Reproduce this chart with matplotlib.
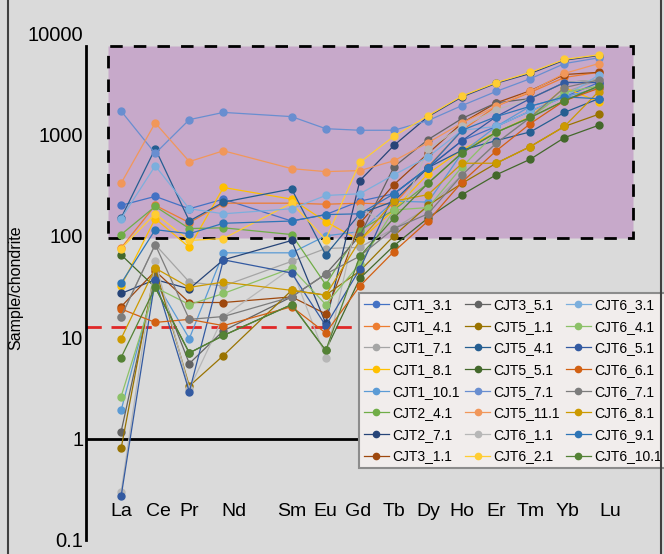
import numpy as np
import matplotlib.pyplot as plt
from matplotlib.patches import Rectangle
from matplotlib.lines import Line2D

plt.rcParams['font.family'] = ['Liberation Sans', 'DejaVu Sans']

# REE order incl. Pm (no data for Pm, it only leaves a gap on the x axis)
ree_all = ['La', 'Ce', 'Pr', 'Nd', 'Pm', 'Sm', 'Eu', 'Gd', 'Tb', 'Dy', 'Ho', 'Er', 'Tm', 'Yb', 'Lu']
elements = ['La', 'Ce', 'Pr', 'Nd', 'Sm', 'Eu', 'Gd', 'Tb', 'Dy', 'Ho', 'Er', 'Tm', 'Yb', 'Lu']

names = ['CJT1_3.1', 'CJT1_4.1', 'CJT1_7.1', 'CJT1_8.1', 'CJT1_10.1', 'CJT2_4.1', 'CJT2_7.1', 'CJT3_1.1',
         'CJT3_5.1', 'CJT5_1.1', 'CJT5_4.1', 'CJT5_5.1', 'CJT5_7.1', 'CJT5_11.1', 'CJT6_1.1', 'CJT6_2.1',
         'CJT6_3.1', 'CJT6_4.1', 'CJT6_5.1', 'CJT6_6.1', 'CJT6_7.1', 'CJT6_8.1', 'CJT6_9.1', 'CJT6_10.1']

colors = ['#4472C4', '#ED7D31', '#A5A5A5', '#FFC000', '#5B9BD5', '#70AD47', '#264478', '#9E480E',
          '#636363', '#997300', '#255E91', '#43682B', '#698ED0', '#F1975A', '#B7B7B7', '#FFCD33',
          '#7CAFDD', '#8CC168', '#335AA1', '#D26012', '#7C7C7C', '#CC9A00', '#2E75B6', '#548235']

# chondrite normalised values
cjt1_3 = [200, 245, 185, 230, 140, 162, 220, 260, 470, 870, 1200, 1700, 2350, 3250]
cjt1_4 = [76, 200, 135, 210, 210, 205, 210, 205, 480, 1100, 1900, 2600, 3650, 4100]
cjt1_7 = [16, 82, 35, 32, 56, 75, 77, 118, 190, 400, 820, 1470, 2600, 3450]
cjt1_8 = [32, 148, 77, 300, 230, 138, 90, 180, 410, 710, 1050, 1500, 2900, 2100]
cjt1_10 = [1.9, 36, 9.7, 68, 68, 100, 110, 220, 215, 660, 1200, 1900, 2350, 2850]
cjt2_4 = [103, 195, 118, 120, 103, 33, 113, 180, 330, 660, 1050, 1470, 2150, 3000]
cjt2_7 = [27, 37, 30, 58, 90, 13.7, 350, 780, 1500, 2350, 3200, 4000, 5400, 6000]
cjt3_1 = [20, 45, 22, 22, 25, 17, 133, 320, 650, 1300, 2050, 2700, 3900, 4100]
cjt3_5 = [1.17, 40, 5.5, 11.6, 25, 42, 100, 480, 890, 1440, 2050, 2260, 3250, 3450]
cjt5_1 = [0.8, 48, 3.3, 6.6, 29, 26, 45, 100, 200, 330, 520, 760, 1200, 1580]
cjt5_4 = [150, 725, 140, 215, 290, 65, 165, 220, 470, 700, 870, 1060, 1650, 2250]
cjt5_5 = [65, 31, 7, 10.4, 21, 7.4, 38, 80, 150, 255, 400, 570, 930, 1230]
cjt5_7 = [1700, 650, 1400, 1650, 1500, 1140, 1100, 1100, 1370, 1930, 2660, 3550, 5000, 5700]
cjt5_11 = [330, 1300, 540, 690, 460, 430, 440, 550, 830, 1300, 1900, 2660, 4000, 5000]
cjt6_1 = [0.3, 56, 3.1, 16, 48, 6.3, 190, 118, 720, 1200, 1750, 2260, 3250, 3450]
cjt6_2 = [75, 165, 90, 94, 210, 92, 530, 960, 1530, 2400, 3250, 4100, 5500, 6100]
cjt6_3 = [148, 490, 185, 165, 185, 250, 260, 400, 600, 1100, 1200, 1700, 2350, 3850]
cjt6_4 = [2.6, 31, 21, 27, 48, 21, 53, 180, 190, 480, 1050, 1470, 2600, 3000]
cjt6_5 = [0.27, 37, 2.9, 58, 43, 13, 47, 260, 470, 870, 1500, 2260, 3250, 3250]
cjt6_6 = [19, 14, 15, 13, 20, 11, 32, 70, 140, 340, 690, 1280, 2150, 2850]
cjt6_7 = [16, 82, 15, 16, 25, 42, 63, 118, 165, 400, 820, 1470, 2900, 3450]
cjt6_8 = [9.7, 48, 31, 35, 29, 26, 90, 220, 255, 520, 520, 760, 1200, 2650]
cjt6_9 = [34, 115, 105, 133, 140, 162, 165, 260, 470, 1100, 1500, 1900, 2350, 2250]
cjt6_10 = [6.3, 31, 7, 10.4, 21, 7.4, 63, 150, 330, 660, 1050, 1470, 2150, 3000]

series = [cjt1_3, cjt1_4, cjt1_7, cjt1_8, cjt1_10, cjt2_4, cjt2_7, cjt3_1,
          cjt3_5, cjt5_1, cjt5_4, cjt5_5, cjt5_7, cjt5_11, cjt6_1, cjt6_2,
          cjt6_3, cjt6_4, cjt6_5, cjt6_6, cjt6_7, cjt6_8, cjt6_9, cjt6_10]

box_low, box_high = 95, 7400   # purple field
red_level = 12.7               # red dashed line

x = [ree_all.index(e) for e in elements]
# element names sit a little off their points in the original
label_shift = {'Ce': 0.1, 'Nd': 0.3, 'Gd': -0.05, 'Yb': 0.1, 'Lu': 0.33}

fig = plt.figure(figsize=(6.64, 5.54), dpi=100)
fig.patch.set_facecolor('#DADADA')
ax = fig.add_axes([0.1295, 0.0253, 0.849, 0.915])
ax.set_facecolor('none')
ax.set_yscale('log')
ax.set_ylim(0.1, 10000)
ax.set_xlim(-1.03, 15.5)

ax.add_patch(Rectangle((-0.38, box_low), 15.38, box_high - box_low, facecolor='#C7A9CA',
                       edgecolor='black', linewidth=2, linestyle=(0, (4.5, 4)), zorder=1))
ax.axhline(red_level, color='#E02828', linewidth=2, linestyle=(0, (5.5, 3.5)), zorder=2)
ax.axhline(1, color='black', linewidth=2, zorder=2)

for name, vals, c in zip(names, series, colors):
    ax.plot(x, vals, color=c, linewidth=0.9, marker='o', markersize=5, label=name, zorder=3)

for xi, e in zip(x, elements):
    ax.text(xi + label_shift.get(e, 0), 0.19, e, ha='center', va='center', fontsize=14)

for s in ['top', 'right', 'bottom']:
    ax.spines[s].set_visible(False)
ax.spines['left'].set_linewidth(2)
ax.spines['left'].set_bounds(0.1, box_high)
ax.set_xticks([])
ax.set_yticks([0.1, 1, 10, 100, 1000, 10000])
ax.set_yticklabels(['0.1', '1', '10', '100', '1000', '10000'], fontsize=14.5)
ax.yaxis.set_minor_locator(plt.NullLocator())
ax.tick_params(axis='y', length=0, pad=2)
fig.text(16 / 664, 1 - 288 / 554, 'Sample/chondrite', rotation=90, ha='center', va='center', fontsize=11.5)

# thin dark frame at the picture's sides
fig.add_artist(Line2D([8 / 664, 8 / 664], [0, 1], color='#404040', linewidth=1.5))
fig.add_artist(Line2D([661 / 664, 661 / 664], [0, 1], color='#404040', linewidth=1.5))

leg = ax.legend(loc='upper left', bbox_to_anchor=(0.484, 0.487), ncol=3, fontsize=10,
                frameon=True, fancybox=False, borderaxespad=0, handlelength=1.8,
                columnspacing=0.4, handletextpad=0.25, labelspacing=0.55, borderpad=0.35,
                markerscale=0.9)
leg.get_frame().set_facecolor('#F1EDEC')
leg.get_frame().set_edgecolor('#8C8C8C')
leg.get_frame().set_linewidth(1.5)
leg.get_frame().set_alpha(1)
leg.set_zorder(5)

fig.savefig('out.png', dpi=100, facecolor=fig.get_facecolor())
